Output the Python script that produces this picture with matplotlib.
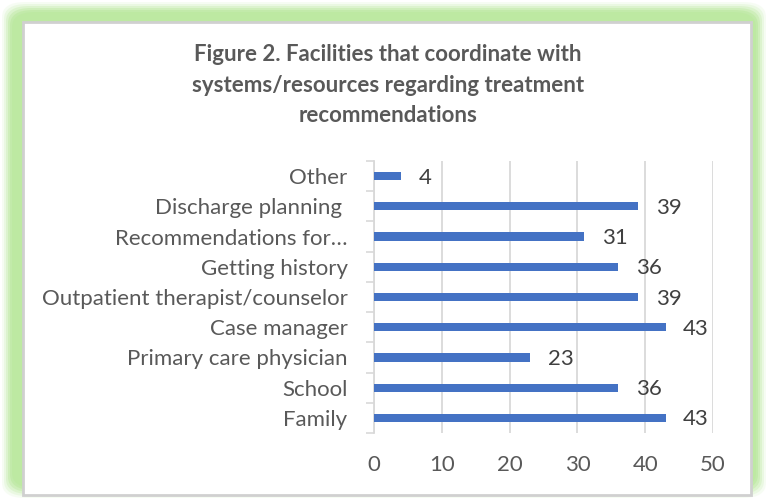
import matplotlib.pyplot as plt
from matplotlib.patches import FancyBboxPatch, Rectangle

categories = ['Family', 'School', 'Primary care physician', 'Case manager',
              'Outpatient therapist/counselor', 'Getting history',
              'Recommendations for…', 'Discharge planning ', 'Other']
counts = [43, 36, 23, 43, 39, 36, 31, 39, 4]
xticks = [0, 10, 20, 30, 40, 50]

W, H = 768, 503
plt.rcParams['font.family'] = ['Lato', 'DejaVu Sans']
fig = plt.figure(figsize=(W / 100, H / 100), dpi=100)

# green glow frame, layered to fake the blur
glow = '#bde9a2'
for i, a in enumerate([0.12, 0.2, 0.3, 0.45, 0.65, 0.9, 1.0]):
    pad = 2 + i * 2
    fig.patches.append(FancyBboxPatch((pad / W, (H - 500 + pad) / H),
                                      (W - 2 * pad) / W, (500 - 2 * pad) / H,
                                      boxstyle='round,pad=0,rounding_size=0.03',
                                      transform=fig.transFigure, facecolor=glow,
                                      edgecolor='none', alpha=a, zorder=-3))
fig.patches.append(Rectangle((23 / W, (H - 495) / H), (751 - 23) / W, (495 - 22) / H,
                             transform=fig.transFigure, facecolor='white',
                             edgecolor='#d0d0d0', linewidth=2, zorder=-2))

ax = fig.add_axes([374 / W, (H - 433) / H, (713 - 374) / W, (433 - 161) / H])
ax.set_facecolor('none')
y = list(range(len(categories)))
ax.barh(y, counts, height=0.27, color='#4472c4', zorder=3)
for yi, v in zip(y, counts):
    ax.text(v + 2.6, yi - 0.05, str(v), va='center', ha='left', fontsize=16, color='#404040')

ax.set_xlim(0, 50)
ax.set_ylim(-0.5, len(categories) - 0.5)
ax.set_xticks(xticks)
ax.set_yticks(y)
ax.set_yticklabels(categories)
ax.set_yticks([i + 0.5 for i in range(-1, len(categories))], minor=True)
ax.tick_params(axis='y', which='major', length=0, pad=19, labelsize=16, labelcolor='#595959')
ax.tick_params(axis='y', which='minor', length=6, color='#d9d9d9', width=1.2)
ax.tick_params(axis='x', length=0, pad=16, labelsize=16, labelcolor='#595959')
ax.grid(axis='x', color='#d9d9d9', linewidth=1.3, zorder=0)
for s in ['top', 'right', 'bottom']:
    ax.spines[s].set_visible(False)
ax.spines['left'].set_color('#d9d9d9')
ax.spines['left'].set_linewidth(1.3)

fig.text(388 / W, (H - 85) / H,
         'Figure 2. Facilities that coordinate with\nsystems/resources regarding treatment\nrecommendations',
         ha='center', va='center', fontsize=16, fontweight='bold', color='#595959',
         linespacing=1.55)

fig.savefig('out.png', dpi=100)
